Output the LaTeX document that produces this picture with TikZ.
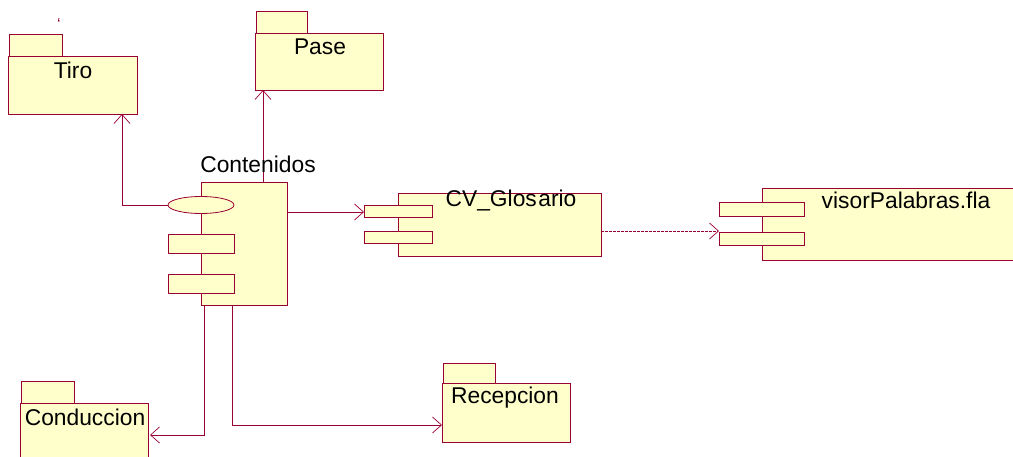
\documentclass[tikz,border=0pt]{standalone}
\usepackage{fontspec}
\setmainfont{Liberation Sans}
\usetikzlibrary{arrows.meta,shapes.geometric}
\definecolor{umlred}{HTML}{990033}
\definecolor{umlfill}{HTML}{FFFFCC}
\tikzset{
  box/.style={draw=umlred, fill=umlfill, line width=1.3pt, rectangle, inner sep=0pt, anchor=north west},
  lbl/.style={inner sep=0pt, font=\fontsize{22.8}{26}\selectfont},
  conn/.style={draw=umlred, line width=0.7pt, -{Straight Barb[length=9pt,width=16pt]}},
}
\begin{document}
\begin{tikzpicture}[x=1pt,y=-1pt]
\useasboundingbox (0,0) rectangle (1013,457);
% Tiro
\node[box, minimum width=53pt, minimum height=22pt] (tirotab) at (9,34) {};
\node[box, minimum width=129pt, minimum height=58pt] (tiro) at (8,56) {};
\node[lbl] (tirol) at (73,70) {Tiro};
\node[inner sep=0pt, font=\fontsize{16}{16}\selectfont, text=umlred] (tick) at (59,24) {`};
% Pase
\node[box, minimum width=51pt, minimum height=22pt] (pasetab) at (256,11) {};
\node[box, minimum width=128pt, minimum height=57pt] (pase) at (255,33) {};
\node[lbl] (pasel) at (320,47) {Pase};
% Contenidos component
\coordinate (c1) at (263,182);
\coordinate (c2) at (263,90);
\draw[conn] (c1) -- (c2);
\node[box, minimum width=86pt, minimum height=123pt] (cont) at (201,182) {};
\node[draw=umlred, fill=umlfill, line width=0.8pt, ellipse, minimum width=66pt, minimum height=17pt, inner sep=0pt] (ell) at (201,205) {};
\node[box, line width=1pt, minimum width=66pt, minimum height=19pt] (cr1) at (168,234) {};
\node[box, line width=1pt, minimum width=66pt, minimum height=19pt] (cr2) at (168,274) {};
\node[lbl] (contl) at (258,164) {Contenidos};
% CV_Glosario
\node[box, minimum width=203pt, minimum height=63pt] (cv) at (398,193) {};
\node[box, minimum width=68pt, minimum height=12pt] (cvr1) at (364,205) {};
\node[box, minimum width=68pt, minimum height=12pt] (cvr2) at (364,231) {};
\node[lbl] (cvl) at (511,201) {CV\_Glos\kern1.5pt ario};
% visorPalabras.fla
\node[box, minimum width=270pt, minimum height=72pt] (vis) at (762,188) {};
\node[box, minimum width=85pt, minimum height=14pt] (vr1) at (719,202) {};
\node[box, minimum width=85pt, minimum height=13pt] (vr2) at (719,232) {};
\node[lbl] (visl) at (906,200) {visorPalabras.fla};
% Conduccion
\node[box, line width=1pt, minimum width=53pt, minimum height=22pt] (contab) at (21,381) {};
\node[box, line width=1pt, minimum width=128pt, minimum height=70pt] (cond) at (20,403) {};
\node[lbl] (condl) at (85,417) {Conduccion};
% Recepcion
\node[box, line width=1pt, minimum width=52pt, minimum height=20pt] (rectab) at (443,363) {};
\node[box, line width=1pt, minimum width=128pt, minimum height=59pt] (rec) at (442,383) {};
\node[lbl] (recl) at (505,398) {Recepcion};
% connectors
\coordinate (t1) at (122,114);
\draw[conn] (ell.west) -| (t1);
\coordinate (g0) at (287,212);
\coordinate (g1) at (364,212);
\draw[conn] (g0) -- (g1);
\coordinate (v0) at (601,231);
\coordinate (v1) at (719,231);
\draw[conn, dash pattern=on 3pt off 1pt] (v0) -- (v1);
\coordinate (d0) at (204,305);
\coordinate (d1) at (150,435);
\draw[conn] (d0) |- (d1);
\coordinate (e0) at (232,305);
\coordinate (e1) at (442,425);
\draw[conn] (e0) |- (e1);
\end{tikzpicture}
\end{document}
